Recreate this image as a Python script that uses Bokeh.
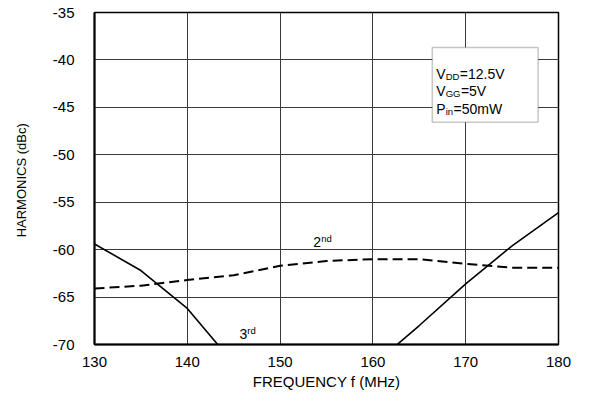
from bokeh.plotting import figure
from bokeh.models import Label, BoxAnnotation, FixedTicker, Range1d, CustomJSTickFormatter
from bokeh.embed import file_html
from bokeh.resources import INLINE

# ---- data ----
x_ticks = [130, 140, 150, 160, 170, 180]
y_ticks = [-70, -65, -60, -55, -50, -45, -40, -35]

freq_2nd = [130, 135, 140, 145, 150, 155, 160, 165, 170, 175, 180]
harm_2nd = [-64.1, -63.8, -63.2, -62.7, -61.7, -61.2, -61.0, -61.0, -61.5, -61.9, -61.9]

freq_3rd_low = [130, 135, 140, 145]
harm_3rd_low = [-59.4, -62.2, -66.2, -72.0]
freq_3rd_high = [160, 165, 170, 175, 180]
harm_3rd_high = [-72.2, -68.0, -63.6, -59.6, -56.1]

cond_box = dict(left=166.4, right=177.8, top=-38.7, bottom=-46.56)
cond_rows = [("V", "DD", "=12.5V"), ("V", "GG", "=5V"), ("P", "in", "=50mW")]

label_2nd = (153.57, -59.24, "2", "nd")
label_3rd = (145.62, -68.85, "3", "rd")

FONT = "Liberation Sans"

p = figure(width=573, height=392, output_backend="svg", toolbar_location=None,
           x_range=Range1d(130, 180), y_range=Range1d(-70, -35),
           min_border_left=94, min_border_right=15, min_border_top=12, min_border_bottom=47)

p.background_fill_color = "white"
p.border_fill_color = "white"
p.outline_line_color = "black"
p.outline_line_width = 1.5

fmt = CustomJSTickFormatter(code="return tick.toString();")
for ax in (p.xaxis[0], p.yaxis[0]):
    ax.major_tick_line_color = None
    ax.minor_tick_line_color = None
    ax.axis_line_color = "black"
    ax.axis_line_width = 2
    ax.major_label_text_font = FONT
    ax.major_label_text_font_size = "15px"
    ax.major_label_text_color = "black"
    ax.axis_label_text_font = FONT
    ax.axis_label_text_font_style = "normal"
    ax.axis_label_text_color = "black"
    ax.formatter = fmt

p.xaxis.ticker = FixedTicker(ticks=x_ticks)
p.yaxis.ticker = FixedTicker(ticks=y_ticks)
p.xaxis.axis_label = "FREQUENCY f (MHz)"
p.yaxis.axis_label = "HARMONICS  (dBc)"
p.xaxis.axis_label_text_font_size = "15px"
p.yaxis.axis_label_text_font_size = "13px"
p.xaxis.major_label_standoff = 6
p.xaxis.axis_label_standoff = 3
p.yaxis.major_label_standoff = 14
p.yaxis.axis_label_standoff = 21

p.xgrid.ticker = FixedTicker(ticks=x_ticks)
p.ygrid.ticker = FixedTicker(ticks=y_ticks)
for g in (p.xgrid[0], p.ygrid[0]):
    g.grid_line_color = "#3a3a3a"
    g.grid_line_width = 1

# curves
p.line(freq_2nd, harm_2nd, line_color="black", line_width=2, line_dash="10 5")
p.line(freq_3rd_low, harm_3rd_low, line_color="black", line_width=1.6)
p.line(freq_3rd_high, harm_3rd_high, line_color="black", line_width=1.6)

# conditions box
p.add_layout(BoxAnnotation(left=cond_box["left"], right=cond_box["right"],
                           top=cond_box["top"], bottom=cond_box["bottom"],
                           fill_color="white", fill_alpha=1.0,
                           line_color="#444444", line_width=1.5))

char_w = {"V": 0.667, "P": 0.667, "D": 0.722, "G": 0.778, "i": 0.222, "n": 0.556}
main_fs, sub_fs = 14, 9.5
for i, (main, sub, rest) in enumerate(cond_rows):
    yoff = -(26 + 17.8 * i)
    x0 = 4.0
    p.add_layout(Label(x=cond_box["left"], y=cond_box["top"], x_offset=x0, y_offset=yoff,
                       text=main, text_font=FONT, text_font_size=f"{main_fs}px",
                       text_baseline="alphabetic", text_color="black"))
    x1 = x0 + sum(char_w[c] for c in main) * main_fs
    p.add_layout(Label(x=cond_box["left"], y=cond_box["top"], x_offset=x1, y_offset=yoff - 2.5,
                       text=sub, text_font=FONT, text_font_size=f"{sub_fs}px",
                       text_baseline="alphabetic", text_color="black"))
    x2 = x1 + sum(char_w[c] for c in sub) * sub_fs + 0.5
    p.add_layout(Label(x=cond_box["left"], y=cond_box["top"], x_offset=x2, y_offset=yoff,
                       text=rest, text_font=FONT, text_font_size=f"{main_fs}px",
                       text_baseline="alphabetic", text_color="black"))

for (lx, ly, num, sup) in (label_2nd, label_3rd):
    p.add_layout(Label(x=lx, y=ly, text=num, text_font=FONT, text_font_size="14px",
                       text_baseline="alphabetic", text_color="black"))
    p.add_layout(Label(x=lx, y=ly, x_offset=7.9, y_offset=3.5, text=sup, text_font=FONT,
                       text_font_size="9.5px", text_baseline="alphabetic", text_color="black"))

open("out.html", "w").write(file_html(p, INLINE))
